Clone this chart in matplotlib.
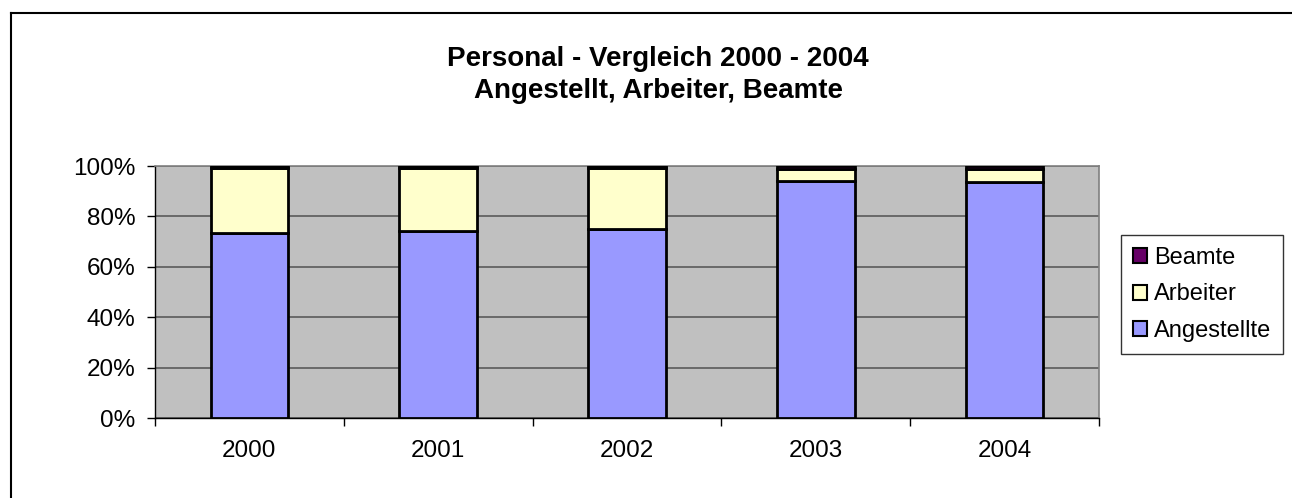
import matplotlib.pyplot as plt
import numpy as np
from matplotlib.lines import Line2D

plt.rcParams['font.family'] = ['Liberation Sans', 'DejaVu Sans']

# data (shares in %)
years = ['2000', '2001', '2002', '2003', '2004']
angestellte = [73.4, 74.1, 75.0, 94.0, 93.8]
arbeiter = [25.7, 25.1, 24.2, 4.8, 5.0]
beamte = [0.9, 0.8, 0.8, 1.2, 1.2]

fig = plt.figure(figsize=(12.92, 4.98), dpi=100)
ax = fig.add_axes([155 / 1292, 1 - 418 / 498, (1099 - 155) / 1292, (418 - 166) / 498])

x = np.arange(len(years))
w = 0.41
ec = dict(edgecolor='black', linewidth=2)
b1 = ax.bar(x, angestellte, w, color='#9999FF', label='Angestellte', zorder=3, **ec)
b2 = ax.bar(x, arbeiter, w, bottom=angestellte, color='#FFFFCC', label='Arbeiter', zorder=3, **ec)
bot = np.array(angestellte) + np.array(arbeiter)
b3 = ax.bar(x, beamte, w, bottom=bot, color='#660066', label='Beamte', zorder=3, **ec)

ax.set_facecolor('#C0C0C0')
ax.set_xlim(-0.5, 4.5)
ax.set_ylim(0, 100)
ax.set_yticks(range(0, 101, 20))
ax.set_yticklabels([f'{v}%' for v in range(0, 101, 20)], fontsize=17.5)
ax.yaxis.grid(True, color='#5a5a5a', linewidth=1.2, zorder=1)
ax.set_axisbelow(True)

ax.set_xticks(x)
ax.set_xticklabels(years, fontsize=17.5)
ax.set_xticks(np.arange(-0.5, 5, 1), minor=True)
ax.tick_params(axis='x', which='major', length=0, pad=16)
ax.tick_params(axis='x', which='minor', length=5.5, width=1, color='black', direction='out')
ax.tick_params(axis='y', length=6, width=1, direction='out', pad=8)

for s in ['top', 'right']:
    ax.spines[s].set_color('#808080')
    ax.spines[s].set_linewidth(1.2)
for s in ['left', 'bottom']:
    ax.spines[s].set_color('black')
    ax.spines[s].set_linewidth(1)

# title is centred on the whole chart area, not on the plot
fig.text(658 / 1292, 1 - 75 / 498, 'Personal - Vergleich 2000 - 2004\nAngestellt, Arbeiter, Beamte',
         fontsize=20, fontweight='bold', ha='center', va='center', multialignment='center',
         linespacing=1.25)

leg = ax.legend(handles=[b3, b2, b1], loc='upper left', bbox_to_anchor=(1121 / 1292, 1 - 235 / 498),
                bbox_transform=fig.transFigure, fontsize=17, frameon=True, fancybox=False,
                edgecolor='black', handlelength=0.6, handleheight=0.6, handletextpad=0.3,
                labelspacing=0.62, borderpad=0.5, borderaxespad=0)
leg.get_frame().set_linewidth(1)
for h in leg.legend_handles:
    h.set_linewidth(1.5)

# chart area border
fig.add_artist(Line2D([11 / 1292, 1], [1 - 13 / 498, 1 - 13 / 498], color='black', linewidth=1.5,
                      transform=fig.transFigure))
fig.add_artist(Line2D([11 / 1292, 11 / 1292], [0, 1 - 13 / 498], color='black', linewidth=1.5,
                      transform=fig.transFigure))

fig.savefig('out.png', dpi=100)
